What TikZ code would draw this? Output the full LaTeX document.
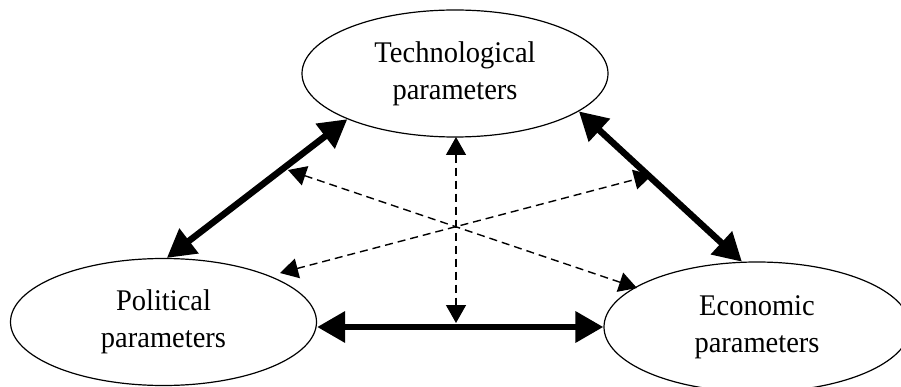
\documentclass[tikz,border=0pt]{standalone}
\usepackage{fontspec}
\setmainfont{Liberation Serif}[FakeStretch=0.95]
\usetikzlibrary{shapes.geometric,arrows.meta}

\tikzset{
  param/.style={ellipse, draw, line width=1.2pt, minimum width=306pt,
    minimum height=127pt, inner sep=0pt, align=center,
    font=\fontsize{30}{37}\selectfont},
  strong/.style={line width=6.5pt,
    {Triangle[length=28pt,width=30pt]}-{Triangle[length=28pt,width=30pt]}},
  weak/.style={line width=1.4pt, dash pattern=on 8pt off 5pt,
    {Triangle[length=18pt,width=20pt]}-{Triangle[length=18pt,width=20pt]}}
}

\begin{document}
\begin{tikzpicture}[x=1pt,y=-1pt]
  \useasboundingbox (0,0) rectangle (901,387);

  % the three parameter groups
  \node[param] (tech) at (455,73.5) {Technological\\parameters};
  \node[param] (pol)  at (163.5,322) {Political\\parameters};
  \node[param, minimum height=130pt] (eco) at (757,327) {Economic\\parameters};

  % free ends of the dashed links
  \coordinate (ul) at (288,170);
  \coordinate (ur) at (652,175);
  \coordinate (ll) at (280,273);
  \coordinate (lr) at (637,288);
  \coordinate (mid) at (456,323);
  \coordinate (top) at (456,137);

  % direct (strong) interactions
  \draw[strong] (tech.203) -- (pol.87);
  \draw[strong] (tech.343) -- (eco.103);
  \draw[strong] (pol.east |- eco.west) -- (eco.west);

  % indirect (weak) interactions
  \draw[weak] (top) -- (mid);
  \draw[weak] (ul) -- (lr);
  \draw[weak] (ll) -- (ur);
\end{tikzpicture}
\end{document}
